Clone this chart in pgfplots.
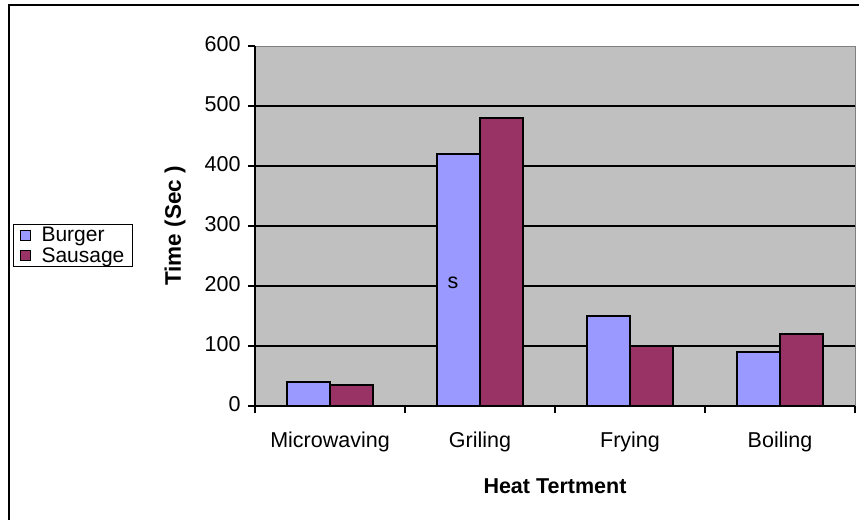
\documentclass[border=0pt]{standalone}
\usepackage{pgfplots}
\pgfplotsset{compat=1.18}
\usepackage{fontspec}
\setmainfont{Liberation Sans}
\definecolor{burger}{HTML}{9999FF}
\definecolor{sausage}{HTML}{993366}
\definecolor{plotgray}{HTML}{C0C0C0}
\definecolor{bordergray}{HTML}{808080}
\begin{document}
\begin{tikzpicture}[x=1pt,y=1pt]
\useasboundingbox (0,0) rectangle (859,520);
\draw[line width=2pt] (8.5,0) -- (8.5,514.5) -- (859,514.5);
\begin{axis}[
  at={(255pt,114pt)}, anchor=south west,
  scale only axis, width=600pt, height=360pt,
  ybar=0pt, bar width=43pt,
  xmin=-0.5, xmax=3.5, ymin=0, ymax=600,
  axis lines*=left,
  axis line style={black, line width=1.2pt},
  axis background/.style={fill=plotgray, draw=bordergray, line width=1pt},
  /pgf/number format/assume math mode=true,
  font=\fontsize{21.5}{25}\selectfont,
  tick label style={font=\fontsize{21.5}{25}\selectfont},
  xtick={0,1,2,3},
  xticklabels={Microwaving,Griling,Frying,Boiling},
  xtick style={draw=none},
  extra x ticks={-0.5,0.5,1.5,2.5,3.5},
  extra x tick labels={},
  extra x tick style={xtick style={draw=black, line width=1.2pt}},
  ytick={0,100,...,500},
  extra y ticks={600},
  extra y tick style={grid=none},
  ytick style={draw=black, line width=1.2pt},
  tick align=outside, major tick length=7pt,
  ymajorgrids, grid style={black, line width=1.2pt},
  typeset ticklabels with strut,
  xticklabel style={yshift=-13pt},
  yticklabel style={xshift=-4pt},
  xlabel={\textbf{Heat Tertment}},
  xlabel style={at={(axis description cs:0.5,-0.2222)}, anchor=center},
  ylabel={\textbf{Time (Sec )}},
  ylabel style={at={(axis description cs:-0.1333,0.5)}, anchor=center, font=\fontsize{22.5}{26}\selectfont},
  legend style={at={(axis description cs:-0.4033,0.5056)}, anchor=north west,
    draw=black, line width=1pt, fill=white, font=\fontsize{21}{20}\selectfont,
    inner xsep=6pt, inner ysep=1pt, row sep=0pt, column sep=9pt, cells={anchor=west}},
  legend image code/.code={\draw[#1, line width=1pt] (0pt,-5pt) rectangle (10pt,5pt);},
]
\addplot[fill=burger, draw=black, line width=1.2pt] coordinates {(0,40) (1,420) (2,150) (3,90)};
\addplot[fill=sausage, draw=black, line width=1.2pt] coordinates {(0,35) (1,480) (2,100) (3,120)};
\legend{Burger,Sausage}
\node[font=\fontsize{21.5}{25}\selectfont] at (axis cs:1,205) [xshift=-27pt] {s};
\end{axis}
\end{tikzpicture}
\end{document}
